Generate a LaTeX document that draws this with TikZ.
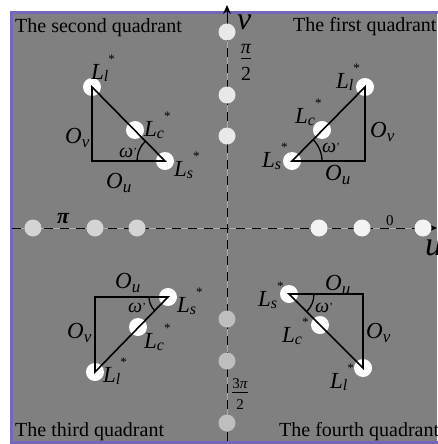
\documentclass[tikz,border=0pt]{standalone}
\usepackage{fontspec}
\setmainfont{Liberation Serif}
\usetikzlibrary{arrows.meta}
\definecolor{frameblue}{RGB}{118,102,187}
\definecolor{bggray}{RGB}{128,128,128}
\definecolor{axgray}{RGB}{170,170,170}
\definecolor{cleft}{RGB}{212,212,212}
\definecolor{cright}{RGB}{243,243,243}
\definecolor{ctop}{RGB}{232,232,232}
\definecolor{cbot}{RGB}{190,190,190}
\newcommand\Lab[2]{\fontsize{23}{23}\selectfont\textit{#1}\raisebox{-2.5pt}{\fontsize{16}{16}\selectfont\textit{#2}}\raisebox{16pt}{\fontsize{13}{13}\selectfont *}}
\newcommand\Olab[1]{\fontsize{23}{23}\selectfont\textit{O}\raisebox{-4pt}{\fontsize{17}{17}\selectfont\textit{#1}}}
\newcommand\Wlab{\fontsize{20}{20}\selectfont\textit{ω}\raisebox{2pt}{\fontsize{11}{11}\selectfont '}}
\newcommand\Frac[3]{\fontsize{#3}{#3}\selectfont\renewcommand\arraystretch{1}\setlength\arrayrulewidth{1pt}\begin{tabular}{@{}c@{}}#1\\[-1pt]\hline\rule{0pt}{1.05em}#2\end{tabular}}
\begin{document}
\begin{tikzpicture}[x=1pt,y=-1pt,
  lbl/.style={inner sep=0pt,anchor=base west},
  title/.style={inner sep=0pt,anchor=base west,font=\fontsize{20}{20}\selectfont},
  axdot/.style={circle,inner sep=0pt,minimum size=17pt,draw=none},
  tdot/.style={circle,inner sep=0pt,minimum size=18pt,fill=white,draw=none},
  tri/.style={line width=1.6pt,black,line join=miter},
  ang/.style={line width=1.3pt,black},
  axline/.style={line width=1pt,black,dash pattern=on 9pt off 7pt}]
\useasboundingbox (0,0) rectangle (437,444);
% background and frame
\fill[white] (0,0) rectangle (437,444);
\fill[bggray] (12,13) rectangle (437,441);
\draw[frameblue,line width=3pt] (445,12.5) -- (11.5,12.5) -- (11.5,442) -- (445,442);
% axes
\draw[axgray,line width=1pt] (12,228) -- (432,228);
\draw[axline] (12,228) -- (432,228);
\draw[axgray,line width=1pt] (227,441) -- (227,14);
\draw[axline] (227,441) -- (227,14);
\coordinate (ue) at (437,228);
\coordinate (us) at (425,228);
\coordinate (ve) at (227,5);
\coordinate (vs) at (227,18);
\draw[-{Stealth[length=9pt,width=8pt]},line width=1pt] (us) -- (ue);
\draw[-{Stealth[length=9pt,width=8pt]},line width=1pt] (vs) -- (ve);
% axis dots
\node[axdot,fill=cleft] (h1) at (33,228) {};
\node[axdot,fill=cleft] (h2) at (95,228) {};
\node[axdot,fill=cleft] (h3) at (137,228) {};
\node[axdot,fill=cright] (h4) at (319,228) {};
\node[axdot,fill=cright] (h5) at (362,228) {};
\node[axdot,fill=cright] (h6) at (423,228) {};
\node[axdot,fill=ctop] (v1) at (227,32) {};
\node[axdot,fill=ctop] (v2) at (227,95) {};
\node[axdot,fill=ctop] (v3) at (227,136) {};
\node[axdot,fill=cbot] (v4) at (227,319) {};
\node[axdot,fill=cbot] (v5) at (227,361) {};
\node[axdot,fill=cbot] (v6) at (227,423) {};
% axis labels
\node[lbl,font=\fontsize{32}{32}\selectfont] (vl) at (237,30) {\textit{v}};
\node[lbl,font=\fontsize{34}{34}\selectfont] (ul) at (425,255) {\textit{u}};
\node[lbl,font=\fontsize{22}{22}\selectfont] (pil) at (57,223) {\textbf{\textit{π}}};
\node[lbl,font=\fontsize{15}{15}\selectfont] (zl) at (386,225) {0};
\node[inner sep=0pt] (p2) at (246,63) {\Frac{\textit{π}}{2}{20}};
\node[inner sep=0pt] (p32) at (240,396) {\Frac{3\textit{π}}{2}{15}};
% titles
\node[title] (t2) at (15,33) {The second quadrant};
\node[title] (t1) at (293,32) {The first quadrant};
\node[title] (t3) at (15,436) {The third quadrant};
\node[title] (t4) at (279,436) {The fourth quadrant};
% ---- second quadrant
\node[tdot] (bl) at (92,87) {};
\node[tdot] (bc) at (135,130) {};
\node[tdot] (bs) at (165,161) {};
\coordinate (bk) at (92,161);
\draw[tri] (bl.center) -- (bk) -- (bs.center) -- cycle;
\draw[ang] (137,161) arc[start angle=180,end angle=225,radius=28];
\node[lbl] at (91,79) {\Lab{L}{l}};
\node[lbl] at (144,136) {\Lab{L}{c}};
\node[lbl] at (174,176) {\Lab{L}{s}};
\node[lbl] at (65,143) {\Olab{v}};
\node[lbl] at (106,188) {\Olab{u}};
\node[lbl] at (119,157) {\Wlab};
% ---- first quadrant
\node[tdot] (al) at (365,87) {};
\node[tdot] (ac) at (322,130) {};
\node[tdot] (as) at (292,161) {};
\coordinate (ak) at (365,161);
\draw[tri] (al.center) -- (ak) -- (as.center) -- cycle;
\draw[ang] (322,161) arc[start angle=0,end angle=-45,radius=30];
\node[lbl] at (336,88) {\Lab{L}{l}};
\node[lbl] at (295,123) {\Lab{L}{c}};
\node[lbl] at (262,167) {\Lab{L}{s}};
\node[lbl] at (370,137) {\Olab{v}};
\node[lbl] at (325,180) {\Olab{u}};
\node[lbl] at (322,152) {\Wlab};
% ---- third quadrant
\node[tdot] (cl) at (95,372) {};
\node[tdot] (cc) at (138,327) {};
\node[tdot] (cs) at (168,297) {};
\coordinate (ck) at (95,297);
\draw[tri] (cl.center) -- (ck) -- (cs.center) -- cycle;
\draw[ang] (149,297) arc[start angle=180,end angle=135,radius=19];
\node[lbl] at (103,382) {\Lab{L}{l}};
\node[lbl] at (144,348) {\Lab{L}{c}};
\node[lbl] at (177,312) {\Lab{L}{s}};
\node[lbl] at (67,338) {\Olab{v}};
\node[lbl] at (115,288) {\Olab{u}};
\node[lbl] at (128,312) {\Wlab};
% ---- fourth quadrant
\node[tdot] (dl) at (363,368) {};
\node[tdot] (dc) at (320,325) {};
\node[tdot] (ds) at (289,294) {};
\coordinate (dk) at (363,294);
\draw[tri] (dl.center) -- (dk) -- (ds.center) -- cycle;
\draw[ang] (314,294) arc[start angle=0,end angle=45,radius=25];
\node[lbl] at (330,388) {\Lab{L}{l}};
\node[lbl] at (282,342) {\Lab{L}{c}};
\node[lbl] at (258,306) {\Lab{L}{s}};
\node[lbl] at (366,338) {\Olab{v}};
\node[lbl] at (325,290) {\Olab{u}};
\node[lbl] at (315,312) {\Wlab};
\end{tikzpicture}
\end{document}
